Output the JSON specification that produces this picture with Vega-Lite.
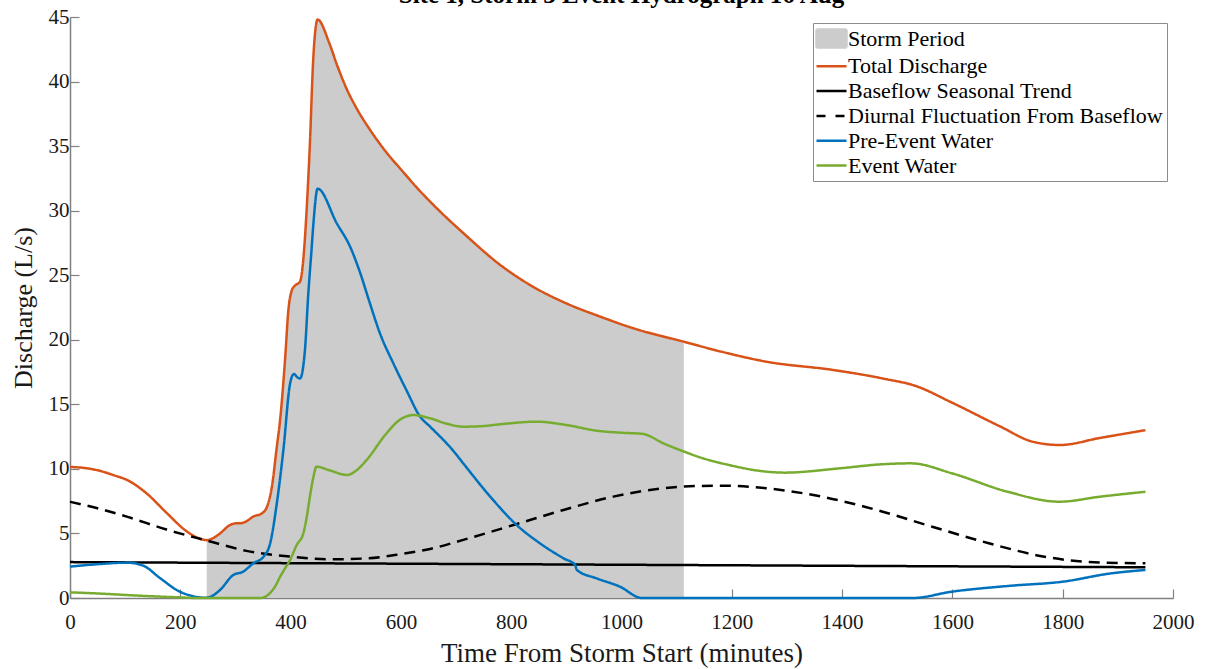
{
  "$schema": "https://vega.github.io/schema/vega-lite/v6.json",
  "width": 1103,
  "height": 581,
  "autosize": {"type": "none"},
  "padding": {"left": 70, "top": 17, "right": 35, "bottom": 71},
  "background": "white",
  "title": {
    "text": "Site 1, Storm 3 Event Hydrograph 16 Aug",
    "font": "Liberation Serif",
    "fontSize": 25,
    "fontWeight": "bold",
    "color": "#000000",
    "anchor": "middle",
    "offset": -2
  },
  "config": {
    "view": {"stroke": null},
    "font": "Liberation Serif",
    "axis": {
      "grid": false,
      "domainColor": "#808080",
      "domainWidth": 1.5,
      "tickColor": "#808080",
      "tickWidth": 1.2,
      "tickSize": -9,
      "labelFont": "Liberation Serif",
      "labelFontSize": 21,
      "labelColor": "#1a1a1a",
      "labelFlush": false,
      "labelOverlap": false,
      "titleFont": "Liberation Serif",
      "titleFontWeight": "normal",
      "titleColor": "#1a1a1a"
    }
  },
  "datasets": {
    "storm": [
      {"series": "Storm Period", "minutes": 248, "discharge": 4.48},
      {"series": "Storm Period", "minutes": 260, "discharge": 4.65},
      {"series": "Storm Period", "minutes": 272, "discharge": 5.0},
      {"series": "Storm Period", "minutes": 290, "discharge": 5.65},
      {"series": "Storm Period", "minutes": 300, "discharge": 5.78},
      {"series": "Storm Period", "minutes": 311, "discharge": 5.8},
      {"series": "Storm Period", "minutes": 322, "discharge": 6.0},
      {"series": "Storm Period", "minutes": 332, "discharge": 6.3},
      {"series": "Storm Period", "minutes": 348, "discharge": 6.56},
      {"series": "Storm Period", "minutes": 357, "discharge": 7.05},
      {"series": "Storm Period", "minutes": 366, "discharge": 8.6},
      {"series": "Storm Period", "minutes": 375, "discharge": 11.7},
      {"series": "Storm Period", "minutes": 381, "discharge": 13.8},
      {"series": "Storm Period", "minutes": 390, "discharge": 18.5},
      {"series": "Storm Period", "minutes": 396, "discharge": 22.3},
      {"series": "Storm Period", "minutes": 402, "discharge": 23.8},
      {"series": "Storm Period", "minutes": 408, "discharge": 24.2},
      {"series": "Storm Period", "minutes": 417, "discharge": 24.5},
      {"series": "Storm Period", "minutes": 423, "discharge": 26.2},
      {"series": "Storm Period", "minutes": 429, "discharge": 30.0},
      {"series": "Storm Period", "minutes": 435, "discharge": 35.2},
      {"series": "Storm Period", "minutes": 441, "discharge": 41.7},
      {"series": "Storm Period", "minutes": 449, "discharge": 44.8},
      {"series": "Storm Period", "minutes": 470, "discharge": 43.0},
      {"series": "Storm Period", "minutes": 484, "discharge": 41.3},
      {"series": "Storm Period", "minutes": 502, "discharge": 39.4},
      {"series": "Storm Period", "minutes": 520, "discharge": 37.9},
      {"series": "Storm Period", "minutes": 545, "discharge": 36.2},
      {"series": "Storm Period", "minutes": 574, "discharge": 34.5},
      {"series": "Storm Period", "minutes": 600, "discharge": 33.2},
      {"series": "Storm Period", "minutes": 635, "discharge": 31.5},
      {"series": "Storm Period", "minutes": 660, "discharge": 30.4},
      {"series": "Storm Period", "minutes": 720, "discharge": 28.0},
      {"series": "Storm Period", "minutes": 780, "discharge": 25.8},
      {"series": "Storm Period", "minutes": 840, "discharge": 24.1},
      {"series": "Storm Period", "minutes": 901, "discharge": 22.8},
      {"series": "Storm Period", "minutes": 961, "discharge": 21.8},
      {"series": "Storm Period", "minutes": 1021, "discharge": 20.9},
      {"series": "Storm Period", "minutes": 1113, "discharge": 19.85}
    ],
    "flows": [
      {"series": "Total Discharge", "minutes": 0, "discharge": 10.15},
      {"series": "Total Discharge", "minutes": 30, "discharge": 10.05},
      {"series": "Total Discharge", "minutes": 54, "discharge": 9.85},
      {"series": "Total Discharge", "minutes": 80, "discharge": 9.5},
      {"series": "Total Discharge", "minutes": 103, "discharge": 9.15},
      {"series": "Total Discharge", "minutes": 139, "discharge": 8.1},
      {"series": "Total Discharge", "minutes": 175, "discharge": 6.6},
      {"series": "Total Discharge", "minutes": 212, "discharge": 5.15},
      {"series": "Total Discharge", "minutes": 235, "discharge": 4.6},
      {"series": "Total Discharge", "minutes": 248, "discharge": 4.48},
      {"series": "Total Discharge", "minutes": 260, "discharge": 4.65},
      {"series": "Total Discharge", "minutes": 272, "discharge": 5.0},
      {"series": "Total Discharge", "minutes": 290, "discharge": 5.65},
      {"series": "Total Discharge", "minutes": 300, "discharge": 5.78},
      {"series": "Total Discharge", "minutes": 311, "discharge": 5.8},
      {"series": "Total Discharge", "minutes": 322, "discharge": 6.0},
      {"series": "Total Discharge", "minutes": 332, "discharge": 6.3},
      {"series": "Total Discharge", "minutes": 348, "discharge": 6.56},
      {"series": "Total Discharge", "minutes": 357, "discharge": 7.05},
      {"series": "Total Discharge", "minutes": 366, "discharge": 8.6},
      {"series": "Total Discharge", "minutes": 375, "discharge": 11.7},
      {"series": "Total Discharge", "minutes": 381, "discharge": 13.8},
      {"series": "Total Discharge", "minutes": 390, "discharge": 18.5},
      {"series": "Total Discharge", "minutes": 396, "discharge": 22.3},
      {"series": "Total Discharge", "minutes": 402, "discharge": 23.8},
      {"series": "Total Discharge", "minutes": 408, "discharge": 24.2},
      {"series": "Total Discharge", "minutes": 417, "discharge": 24.5},
      {"series": "Total Discharge", "minutes": 423, "discharge": 26.2},
      {"series": "Total Discharge", "minutes": 429, "discharge": 30.0},
      {"series": "Total Discharge", "minutes": 435, "discharge": 35.2},
      {"series": "Total Discharge", "minutes": 441, "discharge": 41.7},
      {"series": "Total Discharge", "minutes": 449, "discharge": 44.8},
      {"series": "Total Discharge", "minutes": 470, "discharge": 43.0},
      {"series": "Total Discharge", "minutes": 484, "discharge": 41.3},
      {"series": "Total Discharge", "minutes": 502, "discharge": 39.4},
      {"series": "Total Discharge", "minutes": 520, "discharge": 37.9},
      {"series": "Total Discharge", "minutes": 545, "discharge": 36.2},
      {"series": "Total Discharge", "minutes": 574, "discharge": 34.5},
      {"series": "Total Discharge", "minutes": 600, "discharge": 33.2},
      {"series": "Total Discharge", "minutes": 635, "discharge": 31.5},
      {"series": "Total Discharge", "minutes": 660, "discharge": 30.4},
      {"series": "Total Discharge", "minutes": 720, "discharge": 28.0},
      {"series": "Total Discharge", "minutes": 780, "discharge": 25.8},
      {"series": "Total Discharge", "minutes": 840, "discharge": 24.1},
      {"series": "Total Discharge", "minutes": 901, "discharge": 22.8},
      {"series": "Total Discharge", "minutes": 961, "discharge": 21.8},
      {"series": "Total Discharge", "minutes": 1021, "discharge": 20.9},
      {"series": "Total Discharge", "minutes": 1113, "discharge": 19.85},
      {"series": "Total Discharge", "minutes": 1179, "discharge": 19.1},
      {"series": "Total Discharge", "minutes": 1263, "discharge": 18.3},
      {"series": "Total Discharge", "minutes": 1384, "discharge": 17.66},
      {"series": "Total Discharge", "minutes": 1474, "discharge": 17.0},
      {"series": "Total Discharge", "minutes": 1535, "discharge": 16.4},
      {"series": "Total Discharge", "minutes": 1596, "discharge": 15.2},
      {"series": "Total Discharge", "minutes": 1686, "discharge": 13.3},
      {"series": "Total Discharge", "minutes": 1746, "discharge": 12.1},
      {"series": "Total Discharge", "minutes": 1795, "discharge": 11.85},
      {"series": "Total Discharge", "minutes": 1868, "discharge": 12.4},
      {"series": "Total Discharge", "minutes": 1950, "discharge": 13.0},

      {"series": "Baseflow Seasonal Trend", "minutes": 0, "discharge": 2.78},
      {"series": "Baseflow Seasonal Trend", "minutes": 1950, "discharge": 2.38},

      {"series": "Diurnal Fluctuation From Baseflow", "minutes": 0, "discharge": 7.45},
      {"series": "Diurnal Fluctuation From Baseflow", "minutes": 50, "discharge": 6.95},
      {"series": "Diurnal Fluctuation From Baseflow", "minutes": 103, "discharge": 6.3},
      {"series": "Diurnal Fluctuation From Baseflow", "minutes": 175, "discharge": 5.3},
      {"series": "Diurnal Fluctuation From Baseflow", "minutes": 248, "discharge": 4.45},
      {"series": "Diurnal Fluctuation From Baseflow", "minutes": 320, "discharge": 3.65},
      {"series": "Diurnal Fluctuation From Baseflow", "minutes": 400, "discharge": 3.2},
      {"series": "Diurnal Fluctuation From Baseflow", "minutes": 470, "discharge": 3.0},
      {"series": "Diurnal Fluctuation From Baseflow", "minutes": 540, "discharge": 3.07},
      {"series": "Diurnal Fluctuation From Baseflow", "minutes": 600, "discharge": 3.4},
      {"series": "Diurnal Fluctuation From Baseflow", "minutes": 653, "discharge": 3.8},
      {"series": "Diurnal Fluctuation From Baseflow", "minutes": 713, "discharge": 4.5},
      {"series": "Diurnal Fluctuation From Baseflow", "minutes": 804, "discharge": 5.65},
      {"series": "Diurnal Fluctuation From Baseflow", "minutes": 895, "discharge": 6.82},
      {"series": "Diurnal Fluctuation From Baseflow", "minutes": 985, "discharge": 7.85},
      {"series": "Diurnal Fluctuation From Baseflow", "minutes": 1076, "discharge": 8.5},
      {"series": "Diurnal Fluctuation From Baseflow", "minutes": 1142, "discharge": 8.68},
      {"series": "Diurnal Fluctuation From Baseflow", "minutes": 1190, "discharge": 8.7},
      {"series": "Diurnal Fluctuation From Baseflow", "minutes": 1262, "discharge": 8.5},
      {"series": "Diurnal Fluctuation From Baseflow", "minutes": 1363, "discharge": 7.85},
      {"series": "Diurnal Fluctuation From Baseflow", "minutes": 1464, "discharge": 6.8},
      {"series": "Diurnal Fluctuation From Baseflow", "minutes": 1565, "discharge": 5.5},
      {"series": "Diurnal Fluctuation From Baseflow", "minutes": 1666, "discharge": 4.24},
      {"series": "Diurnal Fluctuation From Baseflow", "minutes": 1767, "discharge": 3.2},
      {"series": "Diurnal Fluctuation From Baseflow", "minutes": 1868, "discharge": 2.74},
      {"series": "Diurnal Fluctuation From Baseflow", "minutes": 1950, "discharge": 2.69},

      {"series": "Pre-Event Water", "minutes": 0, "discharge": 2.43},
      {"series": "Pre-Event Water", "minutes": 30, "discharge": 2.55},
      {"series": "Pre-Event Water", "minutes": 54, "discharge": 2.63},
      {"series": "Pre-Event Water", "minutes": 103, "discharge": 2.74},
      {"series": "Pre-Event Water", "minutes": 133, "discharge": 2.5},
      {"series": "Pre-Event Water", "minutes": 163, "discharge": 1.55},
      {"series": "Pre-Event Water", "minutes": 199, "discharge": 0.49},
      {"series": "Pre-Event Water", "minutes": 225, "discharge": 0.12},
      {"series": "Pre-Event Water", "minutes": 245, "discharge": 0.02},
      {"series": "Pre-Event Water", "minutes": 255, "discharge": 0.1},
      {"series": "Pre-Event Water", "minutes": 272, "discharge": 0.62},
      {"series": "Pre-Event Water", "minutes": 296, "discharge": 1.78},
      {"series": "Pre-Event Water", "minutes": 314, "discharge": 2.04},
      {"series": "Pre-Event Water", "minutes": 332, "discharge": 2.68},
      {"series": "Pre-Event Water", "minutes": 351, "discharge": 3.2},
      {"series": "Pre-Event Water", "minutes": 363, "discharge": 4.24},
      {"series": "Pre-Event Water", "minutes": 375, "discharge": 7.33},
      {"series": "Pre-Event Water", "minutes": 387, "discharge": 11.5},
      {"series": "Pre-Event Water", "minutes": 399, "discharge": 16.6},
      {"series": "Pre-Event Water", "minutes": 406, "discharge": 17.35},
      {"series": "Pre-Event Water", "minutes": 412, "discharge": 17.1},
      {"series": "Pre-Event Water", "minutes": 417, "discharge": 17.0},
      {"series": "Pre-Event Water", "minutes": 426, "discharge": 19.2},
      {"series": "Pre-Event Water", "minutes": 432, "discharge": 23.5},
      {"series": "Pre-Event Water", "minutes": 438, "discharge": 27.0},
      {"series": "Pre-Event Water", "minutes": 441, "discharge": 28.8},
      {"series": "Pre-Event Water", "minutes": 449, "discharge": 31.7},
      {"series": "Pre-Event Water", "minutes": 484, "discharge": 29.0},
      {"series": "Pre-Event Water", "minutes": 508, "discharge": 27.2},
      {"series": "Pre-Event Water", "minutes": 526, "discharge": 25.2},
      {"series": "Pre-Event Water", "minutes": 544, "discharge": 22.8},
      {"series": "Pre-Event Water", "minutes": 562, "discharge": 20.5},
      {"series": "Pre-Event Water", "minutes": 586, "discharge": 18.2},
      {"series": "Pre-Event Water", "minutes": 610, "discharge": 16.1},
      {"series": "Pre-Event Water", "minutes": 635, "discharge": 14.04},
      {"series": "Pre-Event Water", "minutes": 653, "discharge": 13.27},
      {"series": "Pre-Event Water", "minutes": 695, "discharge": 11.4},
      {"series": "Pre-Event Water", "minutes": 713, "discharge": 10.43},
      {"series": "Pre-Event Water", "minutes": 762, "discharge": 7.85},
      {"series": "Pre-Event Water", "minutes": 810, "discharge": 5.65},
      {"series": "Pre-Event Water", "minutes": 852, "discharge": 4.24},
      {"series": "Pre-Event Water", "minutes": 895, "discharge": 3.07},
      {"series": "Pre-Event Water", "minutes": 916, "discharge": 2.56},
      {"series": "Pre-Event Water", "minutes": 919, "discharge": 2.17},
      {"series": "Pre-Event Water", "minutes": 955, "discharge": 1.52},
      {"series": "Pre-Event Water", "minutes": 997, "discharge": 0.88},
      {"series": "Pre-Event Water", "minutes": 1037, "discharge": 0},
      {"series": "Pre-Event Water", "minutes": 1528, "discharge": 0},
      {"series": "Pre-Event Water", "minutes": 1599, "discharge": 0.49},
      {"series": "Pre-Event Water", "minutes": 1700, "discharge": 0.93},
      {"series": "Pre-Event Water", "minutes": 1801, "discharge": 1.27},
      {"series": "Pre-Event Water", "minutes": 1888, "discharge": 1.91},
      {"series": "Pre-Event Water", "minutes": 1950, "discharge": 2.17},

      {"series": "Event Water", "minutes": 0, "discharge": 0.44},
      {"series": "Event Water", "minutes": 50, "discharge": 0.35},
      {"series": "Event Water", "minutes": 103, "discharge": 0.23},
      {"series": "Event Water", "minutes": 150, "discharge": 0.13},
      {"series": "Event Water", "minutes": 199, "discharge": 0.05},
      {"series": "Event Water", "minutes": 230, "discharge": 0},
      {"series": "Event Water", "minutes": 345, "discharge": 0},
      {"series": "Event Water", "minutes": 355, "discharge": 0.12},
      {"series": "Event Water", "minutes": 363, "discharge": 0.4},
      {"series": "Event Water", "minutes": 372, "discharge": 0.9},
      {"series": "Event Water", "minutes": 381, "discharge": 1.65},
      {"series": "Event Water", "minutes": 390, "discharge": 2.3},
      {"series": "Event Water", "minutes": 399, "discharge": 2.94},
      {"series": "Event Water", "minutes": 411, "discharge": 4.1},
      {"series": "Event Water", "minutes": 423, "discharge": 5.0},
      {"series": "Event Water", "minutes": 429, "discharge": 6.2},
      {"series": "Event Water", "minutes": 435, "discharge": 7.85},
      {"series": "Event Water", "minutes": 441, "discharge": 9.3},
      {"series": "Event Water", "minutes": 447, "discharge": 10.17},
      {"series": "Event Water", "minutes": 470, "discharge": 9.9},
      {"series": "Event Water", "minutes": 502, "discharge": 9.53},
      {"series": "Event Water", "minutes": 520, "discharge": 9.9},
      {"series": "Event Water", "minutes": 538, "discharge": 10.7},
      {"series": "Event Water", "minutes": 574, "discharge": 12.76},
      {"series": "Event Water", "minutes": 598, "discharge": 13.8},
      {"series": "Event Water", "minutes": 623, "discharge": 14.17},
      {"series": "Event Water", "minutes": 653, "discharge": 13.92},
      {"series": "Event Water", "minutes": 683, "discharge": 13.5},
      {"series": "Event Water", "minutes": 713, "discharge": 13.27},
      {"series": "Event Water", "minutes": 743, "discharge": 13.3},
      {"series": "Event Water", "minutes": 790, "discharge": 13.5},
      {"series": "Event Water", "minutes": 846, "discharge": 13.66},
      {"series": "Event Water", "minutes": 900, "discharge": 13.4},
      {"series": "Event Water", "minutes": 955, "discharge": 12.96},
      {"series": "Event Water", "minutes": 1000, "discharge": 12.8},
      {"series": "Event Water", "minutes": 1037, "discharge": 12.72},
      {"series": "Event Water", "minutes": 1042, "discharge": 12.68},
      {"series": "Event Water", "minutes": 1075, "discharge": 12.0},
      {"series": "Event Water", "minutes": 1114, "discharge": 11.33},
      {"series": "Event Water", "minutes": 1142, "discharge": 10.9},
      {"series": "Event Water", "minutes": 1195, "discharge": 10.3},
      {"series": "Event Water", "minutes": 1250, "discharge": 9.85},
      {"series": "Event Water", "minutes": 1296, "discharge": 9.71},
      {"series": "Event Water", "minutes": 1397, "discharge": 10.05},
      {"series": "Event Water", "minutes": 1470, "discharge": 10.35},
      {"series": "Event Water", "minutes": 1525, "discharge": 10.43},
      {"series": "Event Water", "minutes": 1599, "discharge": 9.66},
      {"series": "Event Water", "minutes": 1700, "discharge": 8.23},
      {"series": "Event Water", "minutes": 1794, "discharge": 7.46},
      {"series": "Event Water", "minutes": 1868, "discharge": 7.85},
      {"series": "Event Water", "minutes": 1950, "discharge": 8.23}
    ]
  },
  "encoding": {
    "x": {
      "field": "minutes",
      "type": "quantitative",
      "scale": {"domain": [0, 2000], "nice": false, "zero": false},
      "axis": {
        "title": "Time From Storm Start (minutes)",
        "titleFontSize": 27,
        "values": [0, 200, 400, 600, 800, 1000, 1200, 1400, 1600, 1800, 2000],
        "format": "d",
        "labelPadding": 22,
        "titlePadding": 8
      }
    },
    "y": {
      "field": "discharge",
      "type": "quantitative",
      "scale": {"domain": [0, 45], "nice": false},
      "axis": {
        "title": "Discharge (L/s)",
        "titleFontSize": 26,
        "values": [0, 5, 10, 15, 20, 25, 30, 35, 40, 45],
        "labelPadding": 10,
        "titlePadding": 12
      }
    },
    "color": {
      "field": "series",
      "type": "nominal",
      "scale": {
        "domain": ["Storm Period", "Total Discharge", "Baseflow Seasonal Trend", "Diurnal Fluctuation From Baseflow", "Pre-Event Water", "Event Water"],
        "range": ["#CCCCCC", "#D95319", "#000000", "#000000", "#0072BD", "#77AC30"]
      },
      "legend": {
        "title": null,
        "orient": "top-right",
        "offset": 6,
        "padding": 4,
        "fillColor": "white",
        "strokeColor": "#8c8c8c",
        "cornerRadius": 0,
        "labelFont": "Liberation Serif",
        "labelFontSize": 22,
        "labelColor": "#000000",
        "labelOffset": 5,
        "labelLimit": 400,
        "rowPadding": 1.8,
        "symbolSize": 400,
        "symbolOffset": 3,
        "symbolStrokeWidth": 2.5,
        "encode": {
          "symbols": {
            "update": {
              "shape": {"signal": "datum.value === 'Storm Period' ? 'M-1.5,-0.9H1.5V0.9H-1.5Z' : 'M-1.5,0H1.5'"},
              "fill": {"signal": "datum.value === 'Storm Period' ? '#CCCCCC' : 'transparent'"},
              "stroke": {"signal": "datum.value === 'Storm Period' ? 'transparent' : scale('color', datum.value)"},
              "strokeDash": {"signal": "datum.value === 'Diurnal Fluctuation From Baseflow' ? [9, 10] : [1, 0]"},
              "strokeWidth": {"value": 2.5},
              "size": {"value": 400},
              "opacity": {"value": 1}
            }
          }
        }
      }
    }
  },
  "layer": [
    {
      "data": {"name": "storm"},
      "mark": {"type": "area", "interpolate": "monotone", "opacity": 1}
    },
    {
      "data": {"name": "flows"},
      "mark": {"type": "line", "interpolate": "monotone", "strokeWidth": 2.5},
      "encoding": {
        "strokeDash": {
          "field": "series",
          "type": "nominal",
          "scale": {
            "domain": ["Total Discharge", "Baseflow Seasonal Trend", "Diurnal Fluctuation From Baseflow", "Pre-Event Water", "Event Water"],
            "range": [[1, 0], [1, 0], [11, 7], [1, 0], [1, 0]]
          },
          "legend": null
        }
      }
    }
  ]
}
